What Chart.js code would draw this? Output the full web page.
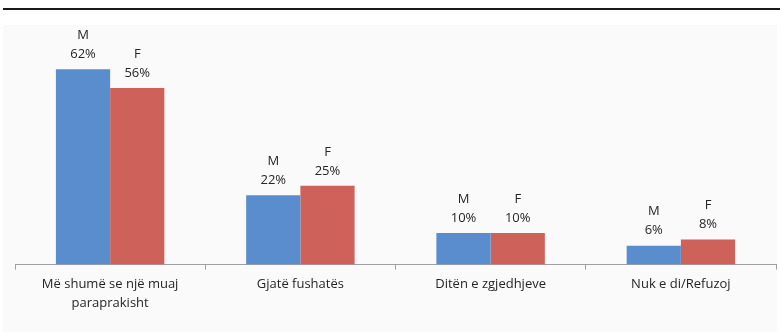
<!DOCTYPE html>
<html>
<head>
<meta charset="utf-8">
<script src="https://cdn.jsdelivr.net/npm/chart.js@4/dist/chart.umd.min.js"></script>
<style>
  html, body { margin: 0; padding: 0; background: #fff; }
  #wrap { position: relative; width: 780px; height: 332px; }
</style>
</head>
<body>
<div id="wrap"><canvas id="chart"></canvas></div>
<script>
// Data
const categories = [
    ['Më shumë se një muaj', 'paraprakisht'],
    'Gjatë fushatës',
    'Ditën e zgjedhjeve',
    'Nuk e di/Refuzoj'
];
const seriesNames = ['M', 'F'];
const maleValues = [62, 22, 10, 6];
const femaleValues = [56, 25, 10, 8];

const FONT = '"Open Sans", "DejaVu Sans", sans-serif';

// page frame: black rule on top and light panel behind the chart
const framePlugin = {
    id: 'frame',
    beforeDraw(chart) {
        const ctx = chart.ctx;
        ctx.save();
        ctx.fillStyle = '#fafafa';
        ctx.fillRect(3, 25, 774, 307);
        ctx.fillStyle = '#1a1a1a';
        ctx.fillRect(3, 8, 777, 2);
        ctx.restore();
    }
};

// "M / 62%" labels above each bar
const barLabels = {
    id: 'barLabels',
    afterDatasetsDraw(chart) {
        const ctx = chart.ctx;
        ctx.save();
        ctx.font = '13px ' + FONT;
        ctx.fillStyle = '#262626';
        ctx.textAlign = 'center';
        ctx.textBaseline = 'middle';
        chart.data.datasets.forEach((ds, i) => {
            chart.getDatasetMeta(i).data.forEach((bar, j) => {
                ctx.fillText(ds.label, bar.x, bar.y - 34);
                ctx.fillText(ds.data[j] + '%', bar.x, bar.y - 15);
            });
        });
        ctx.restore();
    }
};

new Chart(document.getElementById('chart'), {
    type: 'bar',
    data: {
        labels: categories,
        datasets: [
            { label: seriesNames[0], data: maleValues, backgroundColor: '#5a8dcd' },
            { label: seriesNames[1], data: femaleValues, backgroundColor: '#cf615b' }
        ]
    },
    options: {
        responsive: true,
        maintainAspectRatio: false,
        animation: false,
        layout: { padding: { left: 15, right: 4, top: 44, bottom: 14 } },
        plugins: {
            legend: { display: false },
            tooltip: { enabled: false }
        },
        datasets: {
            bar: { categoryPercentage: 0.57, barPercentage: 1.0 }
        },
        scales: {
            y: { display: false, min: 0, max: 70 },
            x: {
                border: { color: '#a0a0a0', width: 1 },
                grid: {
                    offset: true,
                    drawOnChartArea: false,
                    color: '#a0a0a0',
                    tickLength: 5
                },
                ticks: {
                    color: '#262626',
                    font: { family: FONT, size: 13, lineHeight: 1.4 },
                    padding: 6,
                    maxRotation: 0
                }
            }
        }
    },
    plugins: [framePlugin, barLabels]
});
</script>
</body>
</html>
